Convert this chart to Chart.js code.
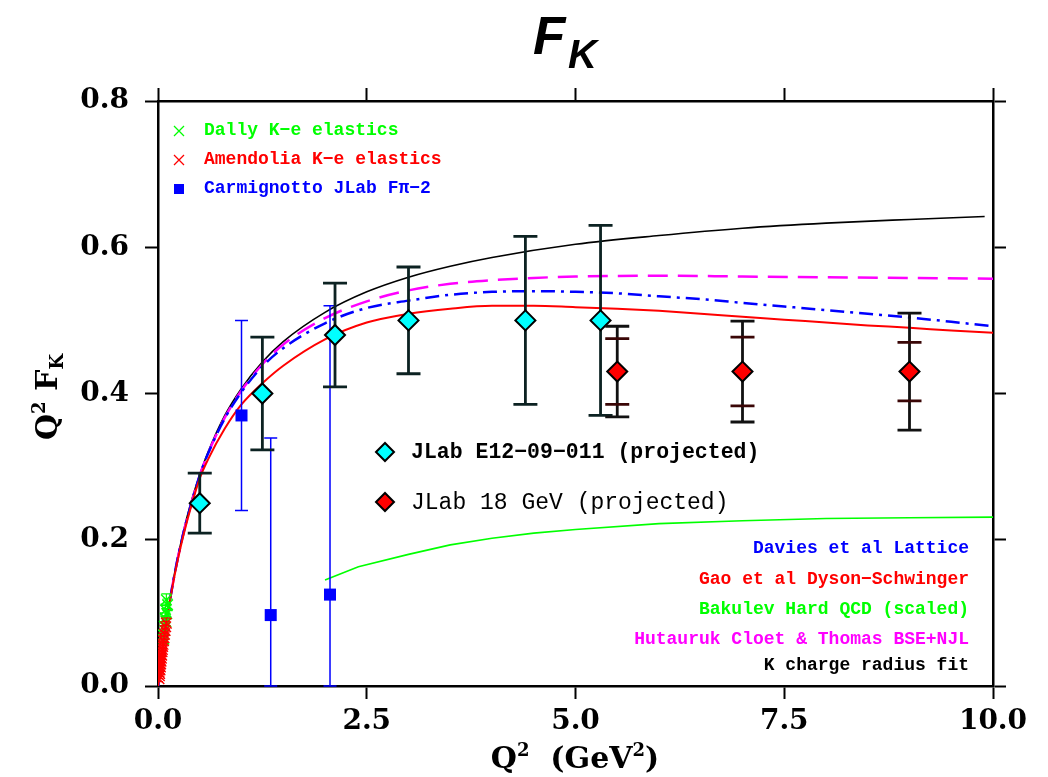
<!DOCTYPE html>
<html>
<head>
<meta charset="utf-8">
<script src="https://cdn.jsdelivr.net/npm/chart.js@4.4.0/dist/chart.umd.min.js"></script>
<style>
  html, body { margin: 0; padding: 0; background: #fff; }
  #wrap { width: 1048px; height: 777px; }
</style>
</head>
<body>
<div id="wrap"><canvas id="c" width="1048" height="777"></canvas></div>
<script>
// ---- axis ticks ----
const xTicks = [0, 2.5, 5, 7.5, 10];
const yTicks = [0, 0.2, 0.4, 0.6, 0.8];

// ---- Dally K-e elastics ----
const dallyQ2  = [0.100, 0.115, 0.090, 0.105, 0.085, 0.095, 0.075, 0.080, 0.065, 0.070];
const dallyVal = [0.118, 0.111, 0.104, 0.099, 0.093, 0.088, 0.082, 0.076, 0.070, 0.064];
const dallyErr = [0.008, 0.008, 0.008, 0.007, 0.007, 0.007, 0.006, 0.006, 0.006, 0.006];

// ---- Amendolia K-e elastics ----
const amendQ2  = [0.012, 0.016, 0.014, 0.020, 0.018, 0.024, 0.022, 0.028, 0.026, 0.032, 0.030, 0.036, 0.034,
                  0.040, 0.038, 0.044, 0.048, 0.052, 0.056, 0.060, 0.066, 0.072, 0.078, 0.085, 0.092, 0.100];
const amendVal = [0.010, 0.014, 0.019, 0.017, 0.023, 0.022, 0.027, 0.026, 0.031, 0.030, 0.035, 0.034, 0.039,
                  0.038, 0.043, 0.042, 0.047, 0.050, 0.054, 0.057, 0.062, 0.066, 0.071, 0.076, 0.081, 0.086];
const amendErr = [0.004, 0.004, 0.004, 0.004, 0.004, 0.004, 0.004, 0.005, 0.005, 0.005, 0.005, 0.005, 0.005,
                  0.005, 0.005, 0.005, 0.005, 0.006, 0.006, 0.006, 0.006, 0.006, 0.007, 0.007, 0.007, 0.007];

// ---- Carmignotto JLab Fpi-2 ----
const carmQ2  = [1.00, 1.35, 2.06];
const carmVal = [0.370, 0.097, 0.125];
const carmErr = [0.130, 0.242, 0.395];

// ---- JLab E12-09-011 (projected) ----
const e12Q2  = [0.50, 1.25, 2.12, 3.00, 4.40, 5.30];
const e12Val = [0.25, 0.40, 0.48, 0.50, 0.50, 0.50];
const e12Err = [0.041, 0.077, 0.071, 0.073, 0.115, 0.130];

// ---- JLab 18 GeV (projected) ----
const gev18Q2    = [5.5, 7.0, 9.0];
const gev18Val   = [0.43, 0.43, 0.43];
const gev18Outer = [0.062, 0.069, 0.080];
const gev18Inner = [0.045, 0.047, 0.040];

// ---- model curves ----
const radiusQ2  = [0, 0.05, 0.1, 0.2, 0.3, 0.4, 0.5, 0.6, 0.8, 1.0, 1.25, 1.5, 2.0, 2.5, 3.0, 3.5, 4.0, 5.0, 6.0, 7.0, 8.0, 9.0, 9.9];
const radiusVal = [0, 0.047, 0.087, 0.155, 0.209, 0.253, 0.289, 0.320, 0.370, 0.407, 0.443, 0.471, 0.511, 0.539, 0.559, 0.574, 0.586, 0.604, 0.616, 0.626, 0.633, 0.638, 0.642];

const daviesQ2  = [0, 0.05, 0.1, 0.2, 0.3, 0.4, 0.5, 0.6, 0.8, 1.0, 1.25, 1.5, 2.0, 2.5, 3.0, 3.5, 4.0, 4.5, 5.0, 5.5, 6.0, 6.5, 7.0, 7.5, 8.0, 8.5, 9.0, 9.5, 10.0];
const daviesVal = [0, 0.046, 0.087, 0.154, 0.207, 0.250, 0.288, 0.318, 0.366, 0.402, 0.437, 0.462, 0.496, 0.517, 0.527, 0.535, 0.539, 0.540, 0.539, 0.537, 0.533, 0.529, 0.524, 0.519, 0.514, 0.509, 0.504, 0.498, 0.492];

const gaoQ2  = [0, 0.05, 0.1, 0.2, 0.3, 0.4, 0.5, 0.6, 0.8, 1.0, 1.25, 1.5, 2.0, 2.5, 3.0, 3.5, 4.0, 4.5, 5.0, 5.5, 6.0, 6.5, 7.0, 7.5, 8.0, 8.5, 9.0, 9.5, 10.0];
const gaoVal = [0, 0.046, 0.086, 0.152, 0.204, 0.247, 0.284, 0.310, 0.352, 0.385, 0.414, 0.438, 0.474, 0.497, 0.509, 0.516, 0.520, 0.520, 0.518, 0.516, 0.513, 0.509, 0.505, 0.501, 0.497, 0.493, 0.490, 0.486, 0.483];

const bakulevQ2  = [2.0, 2.4, 3.0, 3.5, 4.0, 4.5, 5.0, 6.0, 7.0, 8.0, 9.0, 10.0];
const bakulevVal = [0.145, 0.163, 0.180, 0.193, 0.202, 0.209, 0.214, 0.222, 0.226, 0.229, 0.230, 0.231];

const hutaurukQ2  = [0, 0.05, 0.1, 0.2, 0.3, 0.4, 0.5, 0.6, 0.8, 1.0, 1.25, 1.5, 2.0, 2.5, 3.0, 3.5, 4.0, 4.5, 5.0, 6.0, 7.0, 8.0, 9.0, 10.0];
const hutaurukVal = [0, 0.046, 0.087, 0.154, 0.207, 0.250, 0.288, 0.318, 0.367, 0.404, 0.440, 0.467, 0.503, 0.526, 0.541, 0.550, 0.555, 0.558, 0.560, 0.561, 0.560, 0.559, 0.558, 0.557];

const zip = (xs, ys) => xs.map((x, i) => ({ x: x, y: ys[i] }));

const FONT_SERIF = '"DejaVu Serif", "Liberation Serif", serif';
const FONT_MONO  = '"Liberation Mono", "DejaVu Sans Mono", monospace';
const FONT_TITLE = '"Liberation Sans Narrow", "Liberation Sans", Arial, sans-serif';

// vertical error bars drawn just before the markers of their dataset
const errorBarPlugin = {
  id: 'errorBars',
  beforeDatasetDraw(chart, args) {
    const ds = chart.data.datasets[args.index];
    if (!ds.errBars) return;
    const { ctx } = chart;
    const xs = chart.scales.x, ys = chart.scales.y;
    const area = chart.chartArea;
    ctx.save();
    ctx.beginPath();
    ctx.rect(area.left, area.top - 1, area.right - area.left, area.bottom - area.top + 2);
    ctx.clip();
    ds.errBars.forEach(eb => {
      ctx.strokeStyle = eb.color;
      ctx.lineWidth = eb.width;
      ds.data.forEach((p, i) => {
        const e = eb.err[i];
        const px = xs.getPixelForValue(p.x);
        const top = ys.getPixelForValue(Math.min(p.y + e, ys.max));
        const bot = ys.getPixelForValue(Math.max(p.y - e, ys.min));
        ctx.beginPath();
        if (eb.line) {
          ctx.moveTo(px, top);
          ctx.lineTo(px, bot);
        }
        ctx.moveTo(px - eb.cap, top);
        ctx.lineTo(px + eb.cap, top);
        ctx.moveTo(px - eb.cap, bot);
        ctx.lineTo(px + eb.cap, bot);
        ctx.stroke();
      });
    });
    ctx.restore();
  }
};

function drawDiamond(ctx, x, y, r, fill) {
  ctx.beginPath();
  ctx.moveTo(x - r, y);
  ctx.lineTo(x, y - r);
  ctx.lineTo(x + r, y);
  ctx.lineTo(x, y + r);
  ctx.closePath();
  ctx.fillStyle = fill;
  ctx.fill();
  ctx.lineWidth = 2;
  ctx.strokeStyle = '#000';
  ctx.stroke();
}

function drawCross(ctx, x, y, r, color) {
  ctx.beginPath();
  ctx.moveTo(x - r, y - r); ctx.lineTo(x + r, y + r);
  ctx.moveTo(x - r, y + r); ctx.lineTo(x + r, y - r);
  ctx.strokeStyle = color;
  ctx.lineWidth = 1.3;
  ctx.stroke();
}

// titles, axis labels and legend texts
const textPlugin = {
  id: 'texts',
  afterDraw(chart) {
    const ctx = chart.ctx;
    ctx.save();

    // main title F_K
    ctx.fillStyle = '#000';
    ctx.textBaseline = 'alphabetic';
    ctx.textAlign = 'left';
    ctx.font = 'italic bold 53px ' + FONT_TITLE;
    ctx.fillText('F', 533, 54);
    ctx.font = 'italic bold 40px ' + FONT_TITLE;
    ctx.fillText('K', 568, 68);

    // x axis title: Q^2 (GeV^2)
    {
      const big = 'bold 30px ' + FONT_SERIF, small = 'bold 18px ' + FONT_SERIF;
      const parts = [['Q', big, 0], ['2', small, -12], ['  (GeV', big, 0], ['2', small, -12], [')', big, 0]];
      let w = 0;
      parts.forEach(p => { ctx.font = p[1]; w += ctx.measureText(p[0]).width; });
      let x = 575 - w / 2;
      parts.forEach(p => { ctx.font = p[1]; ctx.fillText(p[0], x, 768 + p[2]); x += ctx.measureText(p[0]).width; });
    }

    // y axis title: Q^2 F_K (rotated)
    {
      ctx.save();
      ctx.translate(57, 397);
      ctx.rotate(-Math.PI / 2);
      const big = 'bold 30px ' + FONT_SERIF, small = 'bold 18px ' + FONT_SERIF;
      const parts = [['Q', big, 0], ['2', small, -12], [' F', big, 0], ['K', small, 6]];
      let w = 0;
      parts.forEach(p => { ctx.font = p[1]; w += ctx.measureText(p[0]).width; });
      let x = -w / 2;
      parts.forEach(p => { ctx.font = p[1]; ctx.fillText(p[0], x, p[2]); x += ctx.measureText(p[0]).width; });
      ctx.restore();
    }

    // top-left legend
    ctx.textBaseline = 'middle';
    ctx.font = 'bold 18px ' + FONT_MONO;
    drawCross(ctx, 179, 131, 5, '#00ff00');
    ctx.fillStyle = '#00ff00';
    ctx.fillText('Dally K\u2212e elastics', 204, 130);
    drawCross(ctx, 179, 160, 5, '#ff0000');
    ctx.fillStyle = '#ff0000';
    ctx.fillText('Amendolia K\u2212e elastics', 204, 159);
    ctx.fillStyle = '#0000ff';
    ctx.fillRect(174, 184, 10, 10);
    ctx.fillText('Carmignotto JLab F\u03c0\u22122', 204, 188);

    // projected data legend
    drawDiamond(ctx, 385, 452, 9, '#00ffff');
    ctx.fillStyle = '#000';
    ctx.font = 'bold 21.5px ' + FONT_MONO;
    ctx.fillText('JLab E12\u221209\u2212011 (projected)', 411, 453);
    drawDiamond(ctx, 385, 502, 9, '#ff0000');
    ctx.fillStyle = '#000';
    ctx.font = '23px ' + FONT_MONO;
    ctx.fillText('JLab 18 GeV (projected)', 411, 503);

    // model legend
    ctx.textAlign = 'right';
    ctx.font = 'bold 18px ' + FONT_MONO;
    const models = [
      ['Davies et al Lattice', '#0000ff', 548],
      ['Gao et al Dyson\u2212Schwinger', '#ff0000', 579],
      ['Bakulev Hard QCD (scaled)', '#00ff00', 609],
      ['Hutauruk Cloet & Thomas BSE+NJL', '#ff00ff', 639],
      ['K charge radius fit', '#000000', 665]
    ];
    models.forEach(m => { ctx.fillStyle = m[1]; ctx.fillText(m[0], 969, m[2]); });

    ctx.restore();
  }
};

const tickFont = { family: FONT_SERIF, size: 28, weight: 'bold' };
const gridOpts = { drawOnChartArea: false, drawTicks: true, tickLength: 13, tickWidth: 2, color: '#000' };
const borderOpts = { display: true, color: '#000', width: 2.5 };

new Chart(document.getElementById('c'), {
  type: 'scatter',
  data: {
    datasets: [
      { label: 'K charge radius fit', data: zip(radiusQ2, radiusVal), showLine: true, pointRadius: 0,
        borderColor: '#000000', borderWidth: 1.6, cubicInterpolationMode: 'monotone', order: 10 },
      { label: 'Hutauruk Cloet & Thomas BSE+NJL', data: zip(hutaurukQ2, hutaurukVal), showLine: true, pointRadius: 0,
        borderColor: '#ff00ff', borderWidth: 2.5, borderDash: [20, 10], cubicInterpolationMode: 'monotone', order: 9 },
      { label: 'Davies et al Lattice', data: zip(daviesQ2, daviesVal), showLine: true, pointRadius: 0,
        borderColor: '#0000ff', borderWidth: 2.5, borderDash: [14, 6, 3, 6], cubicInterpolationMode: 'monotone', order: 8 },
      { label: 'Gao et al Dyson-Schwinger', data: zip(gaoQ2, gaoVal), showLine: true, pointRadius: 0,
        borderColor: '#ff0000', borderWidth: 2, cubicInterpolationMode: 'monotone', order: 7 },
      { label: 'Bakulev Hard QCD (scaled)', data: zip(bakulevQ2, bakulevVal), showLine: true, pointRadius: 0,
        borderColor: '#00ff00', borderWidth: 1.6, tension: 0, order: 6 },
      { label: 'Dally K-e elastics', data: zip(dallyQ2, dallyVal), pointStyle: 'crossRot', pointRadius: 7.5,
        borderColor: '#00ff00', borderWidth: 1.4, order: 4,
        errBars: [{ err: dallyErr, color: '#00ff00', width: 1.2, cap: 5, line: true }] },
      { label: 'Amendolia K-e elastics', data: zip(amendQ2, amendVal), pointStyle: 'crossRot', pointRadius: 7.5,
        borderColor: '#ff0000', borderWidth: 1.4, order: 3,
        errBars: [{ err: amendErr, color: '#ff0000', width: 1.2, cap: 4, line: true }] },
      { label: 'Carmignotto JLab Fpi-2', data: zip(carmQ2, carmVal), pointStyle: 'rect', pointRadius: 8.5,
        backgroundColor: '#0000ff', borderColor: '#0000ff', borderWidth: 0, order: 2,
        errBars: [{ err: carmErr, color: '#0000ff', width: 1.5, cap: 6.5, line: true }] },
      { label: 'JLab E12-09-011 (projected)', data: zip(e12Q2, e12Val), pointStyle: 'rectRot', pointRadius: 10,
        backgroundColor: '#00ffff', borderColor: '#000000', borderWidth: 2, order: 1,
        errBars: [{ err: e12Err, color: '#0c2222', width: 2.8, cap: 12, line: true }] },
      { label: 'JLab 18 GeV (projected)', data: zip(gev18Q2, gev18Val), pointStyle: 'rectRot', pointRadius: 10,
        backgroundColor: '#ff0000', borderColor: '#000000', borderWidth: 2, order: 0,
        errBars: [{ err: gev18Outer, color: '#111111', width: 2.8, cap: 12, line: true },
                  { err: gev18Inner, color: '#3a0606', width: 2.8, cap: 12, line: false }] }
    ]
  },
  options: {
    responsive: false,
    animation: false,
    devicePixelRatio: 1,
    layout: { padding: 0 },
    plugins: { legend: { display: false }, tooltip: { enabled: false }, title: { display: false } },
    scales: {
      x: {
        type: 'linear', position: 'bottom', min: 0, max: 10,
        afterBuildTicks: s => { s.ticks = xTicks.map(v => ({ value: v })); },
        ticks: { callback: v => Number(v).toFixed(1), font: tickFont, color: '#000', padding: 6, maxRotation: 0, autoSkip: false },
        grid: gridOpts, border: borderOpts,
        afterFit: s => { s.height = 91; }
      },
      xTop: {
        type: 'linear', position: 'top', min: 0, max: 10,
        afterBuildTicks: s => { s.ticks = xTicks.map(v => ({ value: v })); },
        ticks: { display: false },
        grid: gridOpts, border: borderOpts,
        afterFit: s => { s.height = 101; }
      },
      y: {
        type: 'linear', position: 'left', min: 0, max: 0.8,
        afterBuildTicks: s => { s.ticks = yTicks.map(v => ({ value: v })); },
        ticks: { callback: v => Number(v).toFixed(1), font: tickFont, color: '#000', padding: 16, autoSkip: false },
        grid: gridOpts, border: borderOpts,
        afterFit: s => { s.width = 158; }
      },
      yRight: {
        type: 'linear', position: 'right', min: 0, max: 0.8,
        afterBuildTicks: s => { s.ticks = yTicks.map(v => ({ value: v })); },
        ticks: { display: false },
        grid: gridOpts, border: borderOpts,
        afterFit: s => { s.width = 55; }
      }
    }
  },
  plugins: [errorBarPlugin, textPlugin]
});
</script>
</body>
</html>
